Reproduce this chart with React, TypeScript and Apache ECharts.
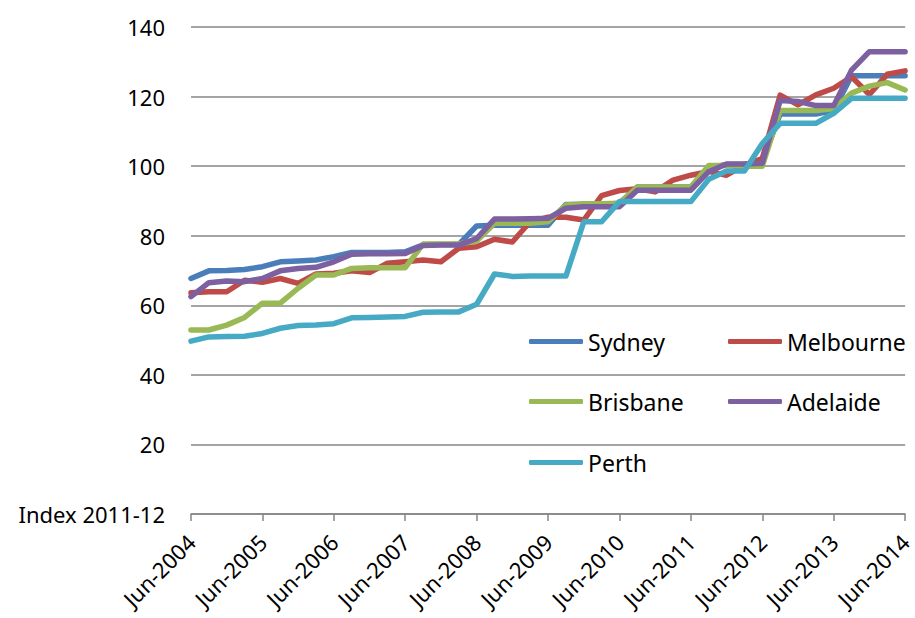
import React, { useEffect, useRef } from "react";
import * as echarts from "echarts";

const quarters = [
  "Jun-2004", "Sep-2004", "Dec-2004", "Mar-2005",
  "Jun-2005", "Sep-2005", "Dec-2005", "Mar-2006",
  "Jun-2006", "Sep-2006", "Dec-2006", "Mar-2007",
  "Jun-2007", "Sep-2007", "Dec-2007", "Mar-2008",
  "Jun-2008", "Sep-2008", "Dec-2008", "Mar-2009",
  "Jun-2009", "Sep-2009", "Dec-2009", "Mar-2010",
  "Jun-2010", "Sep-2010", "Dec-2010", "Mar-2011",
  "Jun-2011", "Sep-2011", "Dec-2011", "Mar-2012",
  "Jun-2012", "Sep-2012", "Dec-2012", "Mar-2013",
  "Jun-2013", "Sep-2013", "Dec-2013", "Mar-2014",
  "Jun-2014",
];

const sydney = [
  67.7, 69.9, 70.0, 70.3, 71.1, 72.5, 72.7, 73.0, 74.0, 75.2,
  75.2, 75.2, 75.4, 77.4, 77.5, 77.5, 82.8, 83.0, 83.0, 83.0,
  83.0, 89.0, 89.0, 89.0, 89.3, 94.0, 94.0, 94.0, 94.0, 99.5,
  100.5, 100.5, 101.5, 115.0, 115.0, 115.0, 116.0, 126.0, 126.0, 126.0,
  126.0,
];

const melbourne = [
  63.6, 63.9, 63.9, 67.2, 66.6, 67.7, 66.3, 69.0, 69.2, 69.9,
  69.4, 72.1, 72.5, 73.0, 72.5, 76.4, 76.8, 79.0, 78.2, 84.0,
  85.3, 85.3, 84.5, 91.5, 93.0, 93.5, 92.6, 96.0, 97.4, 98.5,
  97.4, 100.3, 102.2, 120.4, 117.6, 120.5, 122.4, 125.7, 120.6, 126.4,
  127.4,
];

const brisbane = [
  52.9, 52.9, 54.3, 56.5, 60.6, 60.6, 64.9, 68.7, 68.7, 70.6,
  70.8, 70.8, 70.8, 77.6, 77.6, 77.6, 78.5, 83.6, 83.6, 83.6,
  84.0, 88.8, 89.2, 89.2, 89.3, 94.0, 94.0, 94.0, 94.0, 100.2,
  100.2, 100.0, 100.0, 116.0, 116.0, 116.0, 116.5, 121.0, 123.0, 124.0,
  121.9,
];

const adelaide = [
  62.5, 66.5, 67.0, 66.8, 67.7, 69.9, 70.6, 70.9, 72.5, 74.7,
  74.8, 74.8, 74.9, 77.2, 77.3, 77.3, 79.2, 84.8, 84.8, 84.9,
  85.0, 87.9, 88.3, 88.3, 88.3, 93.1, 93.1, 93.1, 93.1, 98.4,
  100.6, 100.6, 100.8, 118.9, 118.6, 117.4, 117.4, 127.6, 132.9, 132.9,
  132.9,
];

const perth = [
  49.7, 50.9, 51.0, 51.1, 51.9, 53.4, 54.2, 54.3, 54.7, 56.4,
  56.5, 56.6, 56.8, 58.0, 58.1, 58.1, 60.3, 69.0, 68.3, 68.4,
  68.4, 68.4, 84.0, 84.0, 89.8, 89.8, 89.8, 89.8, 89.8, 96.2,
  98.6, 98.6, 106.5, 112.3, 112.3, 112.3, 115.2, 119.5, 119.5, 119.5,
  119.5,
];

const seriesNames = ["Sydney", "Melbourne", "Brisbane", "Adelaide", "Perth"];
const seriesData = [sydney, melbourne, brisbane, adelaide, perth];
const seriesColors = ["#4A7EBB", "#BE4B48", "#98B954", "#7D60A0", "#46AAC5"];

const yTicks = { min: 0, max: 140, interval: 20 };
const zeroLabel = "Index 2011-12";

const FONT = "'Noto Sans', 'DejaVu Sans', sans-serif";

export default function App() {
  const ref = useRef<HTMLDivElement>(null);

  useEffect(() => {
    if (!ref.current) return;
    const chart = echarts.init(ref.current, undefined, { renderer: "svg" });

    const legendPos = [
      { left: 529, top: 330 },
      { left: 728, top: 330 },
      { left: 529, top: 390 },
      { left: 728, top: 390 },
      { left: 529, top: 451 },
    ];

    chart.setOption({
      animation: false,
      backgroundColor: "#ffffff",
      textStyle: { fontFamily: FONT },
      grid: { left: 191, right: 7, top: 27, bottom: 104, containLabel: false },
      legend: seriesNames.map((n, i) => ({
        data: [n],
        left: legendPos[i].left,
        top: legendPos[i].top,
        padding: 0,
        itemWidth: 54,
        itemHeight: 5,
        icon: "roundRect",
        textStyle: { fontSize: 23, color: "#000", fontFamily: FONT },
        selectedMode: false,
      })),
      xAxis: {
        type: "category",
        data: quarters,
        boundaryGap: false,
        axisLine: { show: true, lineStyle: { color: "#868686", width: 1.5 } },
        axisTick: {
          show: true,
          interval: 3,
          length: 7,
          lineStyle: { color: "#868686", width: 1.5 },
        },
        axisLabel: {
          interval: 3,
          rotate: 45,
          margin: 24,
          fontSize: 22,
          color: "#000",
          fontFamily: FONT,
          hideOverlap: false,
        },
      },
      yAxis: {
        type: "value",
        min: yTicks.min,
        max: yTicks.max,
        interval: yTicks.interval,
        axisLine: { show: false },
        axisTick: { show: false },
        splitLine: { show: true, lineStyle: { color: "#868686", width: 1.5 } },
        axisLabel: {
          margin: 26,
          fontSize: 22,
          color: "#000",
          fontFamily: FONT,
          formatter: (v: number) => (v === 0 ? zeroLabel : String(v)),
          rich: {},
        },
      },
      series: seriesNames.map((n, i) => ({
        name: n,
        type: "line",
        data: seriesData[i],
        showSymbol: false,
        symbol: "none",
        color: seriesColors[i],
        lineStyle: { width: 5.5, color: seriesColors[i], cap: "round", join: "round" },
        z: 2 + i,
      })),
    });

    return () => chart.dispose();
  }, []);

  return (
    <div
      ref={ref}
      style={{ position: "fixed", left: 0, top: 0, width: 915, height: 618 }}
    />
  );
}
